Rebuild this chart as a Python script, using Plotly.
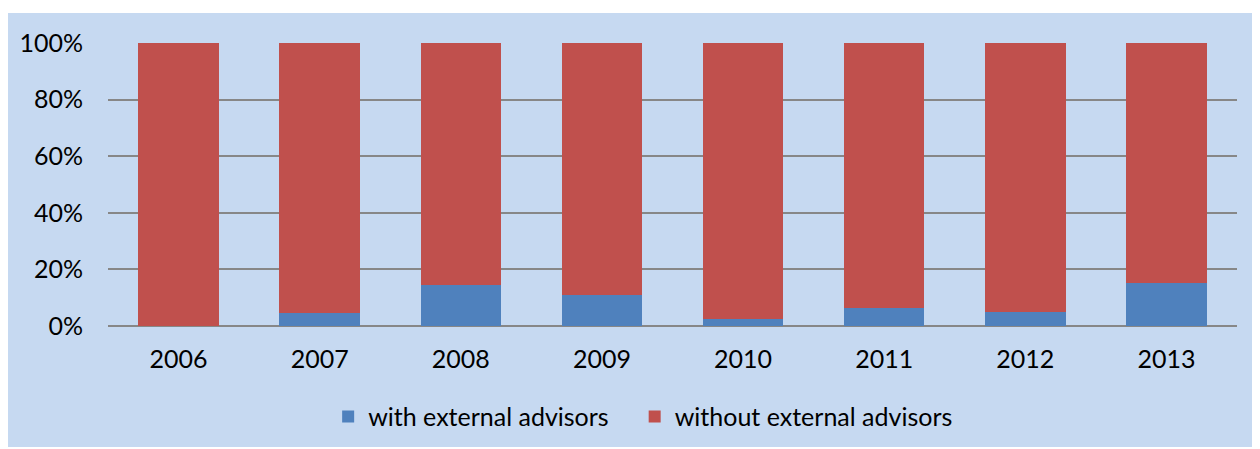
import plotly.graph_objects as go

# share of cases per year (%)
years = ["2006", "2007", "2008", "2009", "2010", "2011", "2012", "2013"]
with_advisors = [0.0, 4.7, 14.6, 10.8, 2.5, 6.3, 5.1, 15.2]
without_advisors = [100 - v for v in with_advisors]

y_ticks = [0, 20, 40, 60, 80, 100]
y_tick_labels = [f"{t}%" for t in y_ticks]

FONT = "Lato"
FONT_SIZE = 25
BLUE = "#4F81BD"
RED = "#C0504D"
PANEL = "#C6D9F1"
GRID = "#878787"

fig = go.Figure()

fig.add_trace(go.Bar(
    x=years,
    y=with_advisors,
    name="with external advisors",
    marker=dict(color=BLUE, line=dict(width=0)),
    legend="legend",
))
fig.add_trace(go.Bar(
    x=years,
    y=without_advisors,
    name="without external advisors",
    marker=dict(color=RED, line=dict(width=0)),
    legend="legend2",
))

# light blue panel behind everything, leaving a thin white border
fig.add_shape(
    type="rect",
    xref="paper", yref="paper",
    x0=-0.1, x1=1.0142, y0=-0.4276, y1=1.106,
    fillcolor=PANEL, line=dict(width=0),
    layer="below",
)

# legends placed in container coords so they don't push the margins
legend_style = dict(
    orientation="h",
    yref="container",
    y=0.073,
    xanchor="left", yanchor="middle",
    bgcolor="rgba(0,0,0,0)",
    font=dict(family=FONT, size=FONT_SIZE, color="black"),
    itemwidth=30,
)

# the page body has an 8px margin, so the figure is a little smaller
fig.update_layout(
    width=1252,
    height=441,
    barmode="stack",
    bargap=0.43,
    paper_bgcolor="white",
    plot_bgcolor="white",
    margin=dict(l=100, r=23, t=35, b=123),
    font=dict(family=FONT, size=FONT_SIZE, color="black"),
    showlegend=True,
    legend=dict(x=0.195, **legend_style),
    legend2=dict(x=0.4665, **legend_style),
    xaxis=dict(
        showgrid=False,
        showline=False,
        ticks="",
        ticklabelstandoff=16,
        tickfont=dict(family=FONT, size=FONT_SIZE),
    ),
    yaxis=dict(
        range=[0, 100],
        tickvals=y_ticks,
        ticktext=y_tick_labels,
        showgrid=True,
        gridcolor=GRID,
        gridwidth=1.5,
        zeroline=True,
        zerolinecolor=GRID,
        zerolinewidth=2,
        showline=False,
        ticks="",
        ticklabelstandoff=24,
        tickfont=dict(family=FONT, size=FONT_SIZE),
    ),
)

fig.write_html("out.html")
